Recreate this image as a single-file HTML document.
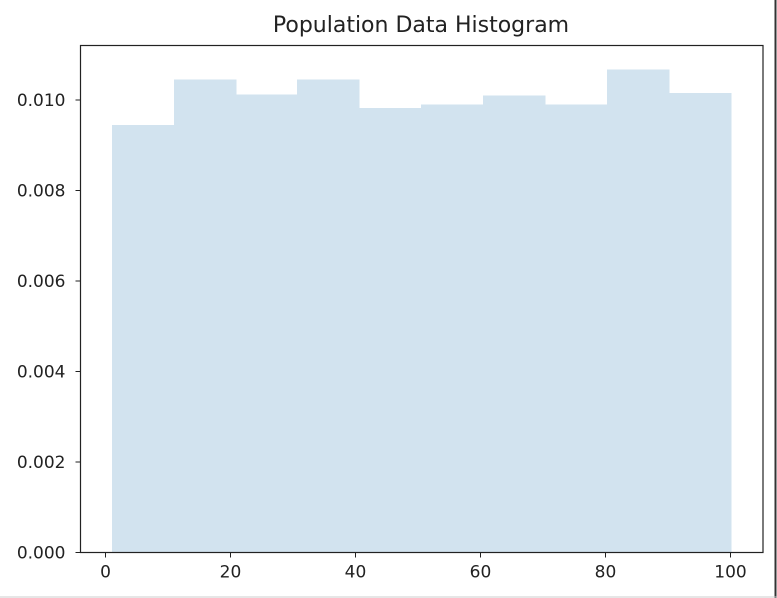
<!DOCTYPE html>
<html><head><meta charset="utf-8"><style>
body{margin:0;background:#fff;}
svg{display:block;font-family:"DejaVu Sans","Liberation Sans",sans-serif;}
</style></head><body>
<svg id="chart" width="777" height="598">
<rect x="0" y="0" width="777" height="598" fill="#fff"/>
<line x1="775.5" y1="0" x2="775.5" y2="598" stroke="#333" stroke-width="2"/>
<line x1="0" y1="597" x2="777" y2="597" stroke="#ccc" stroke-width="1"/>
<text x="421" y="32" font-size="22" text-anchor="middle" fill="#222">Population Data Histogram</text>
<g id="bars" shape-rendering="crispEdges"></g>
<g id="axes"></g>
</svg>
<script>
const binEdges=[1,10.9,20.8,30.7,40.6,50.5,60.4,70.3,80.2,90.1,100];
const densities=[0.00945,0.01045,0.01012,0.01045,0.00982,0.0099,0.0101,0.0099,0.01067,0.01015];
const xTicks=[0,20,40,60,80,100];
const yTicks=["0.000","0.002","0.004","0.006","0.008","0.010"];
const L=80.5,R=763,T=45.5,B=552.5;
const xs=v=>105.5+v*6.25;
const ys=v=>B-v*45250;
const NS="http://www.w3.org/2000/svg";
const bars=document.getElementById('bars'),axes=document.getElementById('axes');
function mk(tag,attrs,parent){const e=document.createElementNS(NS,tag);for(const k in attrs)e.setAttribute(k,attrs[k]);parent.appendChild(e);return e;}
densities.forEach((d,i)=>{
 const x0=Math.round(xs(binEdges[i])),x1=Math.round(xs(binEdges[i+1]));
 const r=mk('rect',{x:x0,y:ys(d),width:x1-x0+0.5,height:B-ys(d),fill:'#d2e3ef'},bars);
 
 
});
const frame=mk('rect',{x:L,y:T,width:R-L,height:B-T,fill:'none',stroke:'#222','stroke-width':1.2},axes);


xTicks.forEach(t=>{
 const x=xs(t);
 mk('line',{x1:x,y1:B,x2:x,y2:B+5,stroke:'#222'},axes);
 const tx=mk('text',{x:x,y:B+25,'font-size':17,'text-anchor':'middle',fill:'#222'},axes);
 tx.textContent=t;
 
 
});
yTicks.forEach(t=>{
 const y=ys(parseFloat(t));
 mk('line',{x1:L-5,y1:y,x2:L,y2:y,stroke:'#222'},axes);
 const tx=mk('text',{x:L-15,y:y+6,'font-size':17,'text-anchor':'end',fill:'#222'},axes);
 tx.textContent=t;
 
 
});
</script>
</body></html>
